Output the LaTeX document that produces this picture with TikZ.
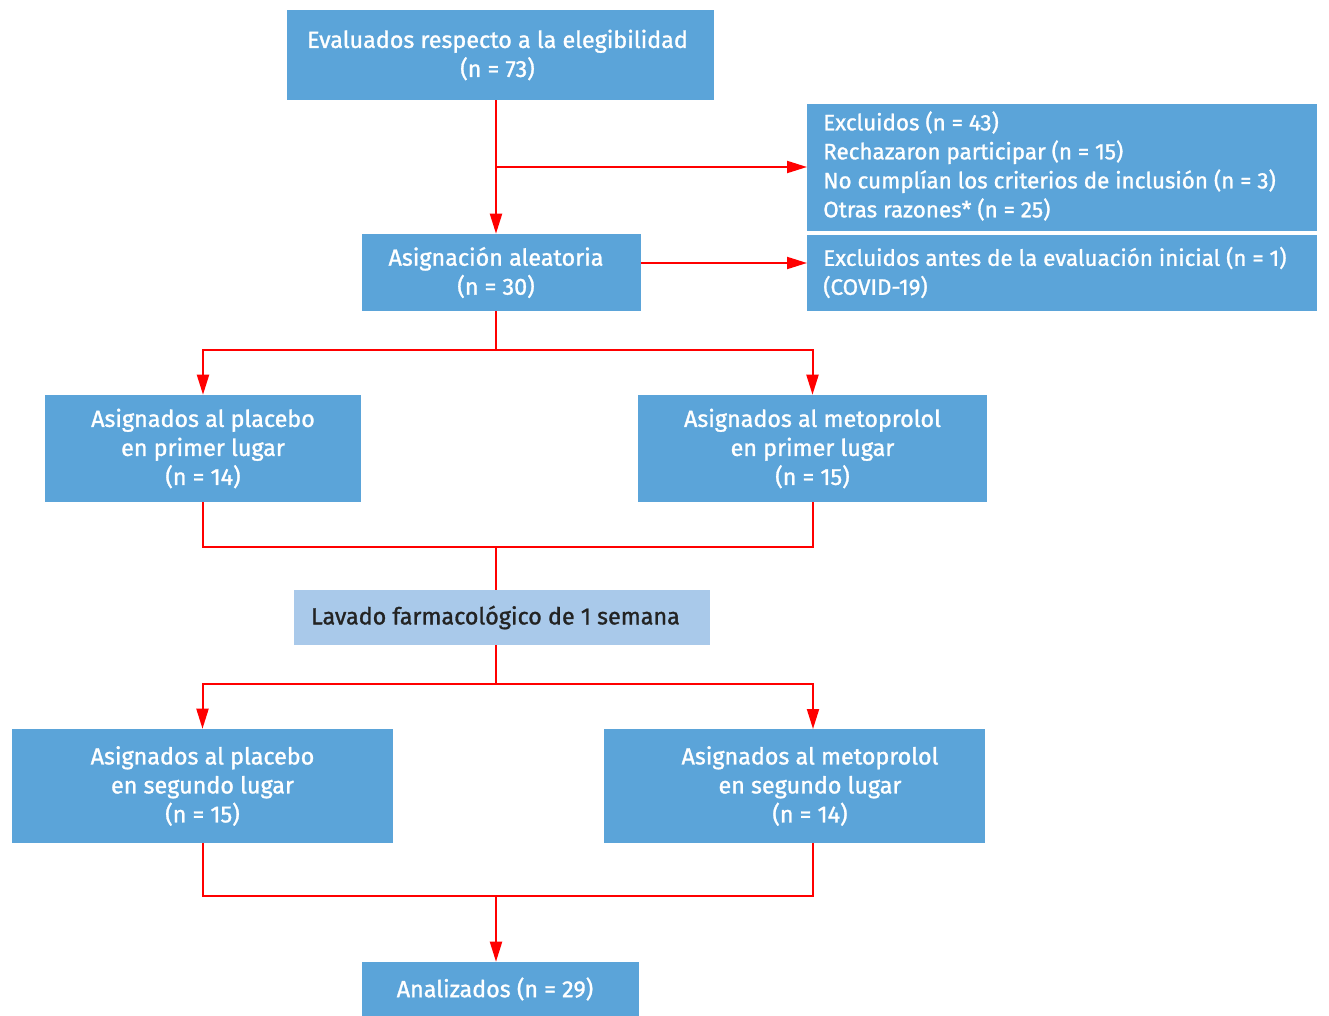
\documentclass[tikz,border=0pt]{standalone}
\usepackage{fontspec}
\setmainfont{Fira Sans}[FakeBold=1.2]
\usetikzlibrary{arrows.meta}
\definecolor{boxblue}{RGB}{91,164,217}
\definecolor{lightblue}{RGB}{169,201,234}
\definecolor{lred}{RGB}{255,0,0}
\definecolor{darktext}{RGB}{35,35,35}
\begin{document}
\begin{tikzpicture}[x=0.75pt,y=-0.75pt,
  box/.style={fill=boxblue,draw=none,text=white,align=center,inner sep=0pt,
    font=\fontsize{17.5}{21.75}\selectfont},
  lbox/.style={fill=lightblue,draw=none,text=darktext,align=center,inner sep=0pt,
    font=\fontsize{17.5}{21.75}\selectfont},
  txt/.style={text=white,align=center,inner sep=0pt,font=\fontsize{17.5}{21.75}\selectfont},
  ltxt/.style={text=white,align=left,anchor=west,inner sep=0pt,font=\fontsize{16.8}{21.75}\selectfont},
  conn/.style={draw=lred,line width=1.5pt},
  arr/.style={conn,-{Triangle[length=15pt,width=9pt]}}]
\useasboundingbox (0,0) rectangle (1329,1016);

\node[box,minimum width=320.25pt,minimum height=67.5pt] (ev) at (500.5,55) {};
\node[txt] (evt) at (497.5,55) {Evaluados respecto a la elegibilidad\\(n = 73)};
\node[box,anchor=west,minimum width=382.5pt,minimum height=95.25pt] (ex) at (807,167.5) {};
\node[ltxt] (ext) at (823,166)
  {Excluidos (n = 43)\\Rechazaron participar (n = 15)\\No cumplían los criterios de inclusión (n = 3)\\Otras razones* (n = 25)};
\node[box,minimum width=209.25pt,minimum height=57.75pt] (as) at (501.5,272.5) {};
\node[txt] (ast) at (496,272.5) {Asignación aleatoria\\(n = 30)};
\node[box,anchor=west,minimum width=382.5pt,minimum height=57pt] (exa) at (807,273) {};
\node[ltxt] (exat) at (823,272.5)
  {Excluidos antes de la evaluación inicial (n = 1)\\(COVID-19)};
\node[box,minimum width=237pt,minimum height=80.25pt] (pp) at (203,448.5)
  {Asignados al placebo\\en primer lugar\\(n = 14)};
\node[box,minimum width=261.75pt,minimum height=80.25pt] (mp) at (812.5,448.5)
  {Asignados al metoprolol\\en primer lugar\\(n = 15)};
\node[lbox,minimum width=312pt,minimum height=41.25pt] (lav) at (502,617.5) {};
\node[text=darktext,inner sep=0pt,font=\fontsize{17.5}{21.75}\selectfont] (lavt) at (495.5,617.5)
  {Lavado farmacológico de 1 semana};
\node[box,minimum width=285.75pt,minimum height=85.5pt] (ps) at (202.5,786)
  {Asignados al placebo\\en segundo lugar\\(n = 15)};
\node[box,minimum width=285.75pt,minimum height=85.5pt] (ms) at (794.5,786) {};
\node[txt] (mst) at (810,786) {Asignados al metoprolol\\en segundo lugar\\(n = 14)};
\node[box,minimum width=207.75pt,minimum height=40.5pt] (an) at (500.5,989) {};
\node[txt] (ant) at (495,989) {Analizados (n = 29)};

\coordinate (c1) at (496,167);
\coordinate (c2) at (641,263);
\coordinate (s1) at (496,350);
\coordinate (j1) at (496,547);
\coordinate (s2) at (496,684);
\coordinate (msa) at (813,729);
\coordinate (msb) at (813,843);
\coordinate (j2) at (496,896);

\draw[arr] (ev.south -| c1) -- (as.north -| c1);
\draw[arr] (c1) -- (ex.west |- c1);
\draw[arr] (c2) -- (exa.west |- c2);
\draw[conn] (as.south -| s1) -- (s1);
\draw[arr] (s1) -| (pp.north);
\draw[arr] (s1) -| (mp.north);
\draw[conn] (pp.south) |- (j1) -| (mp.south);
\draw[conn] (j1) -- (lav.north -| j1);
\draw[conn] (lav.south -| s2) -- (s2);
\draw[arr] (s2) -| (ps.north);
\draw[arr] (s2) -| (msa);
\draw[conn] (ps.south) |- (j2) -| (msb);
\draw[arr] (j2) -- (an.north -| j2);
\end{tikzpicture}
\end{document}
